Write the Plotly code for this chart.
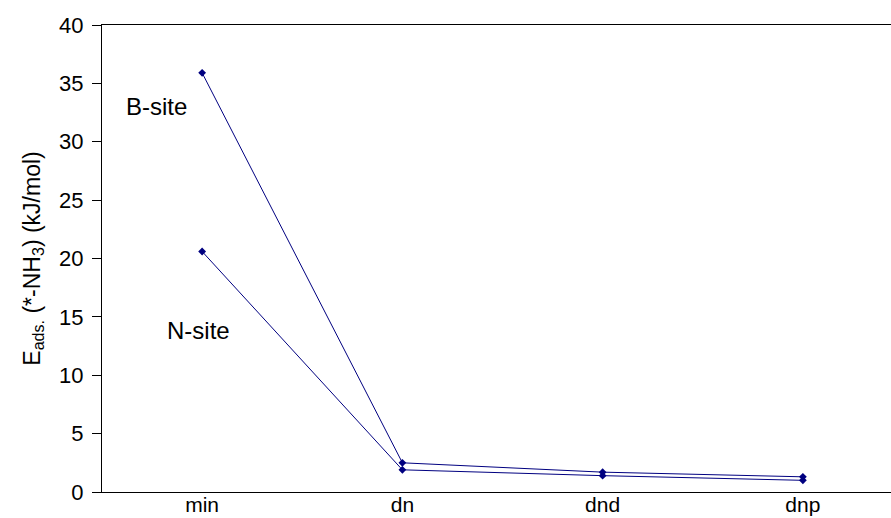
import plotly.graph_objects as go

categories = ["min", "dn", "dnd", "dnp"]
b_site = [35.9, 2.5, 1.7, 1.3]
n_site = [20.6, 1.9, 1.4, 1.0]
y_ticks = [0, 5, 10, 15, 20, 25, 30, 35, 40]

navy = "#000080"
font_family = "Liberation Sans, Arial, sans-serif"

fig = go.Figure()
for name, vals in [("B-site", b_site), ("N-site", n_site)]:
    fig.add_trace(go.Scatter(
        x=categories, y=vals, mode="lines+markers", name=name,
        line=dict(color=navy, width=1),
        marker=dict(symbol="diamond", size=6, color=navy),
        showlegend=False,
    ))

fig.add_annotation(x=-0.23, y=33.0, xref="x", yref="y", text="B-site",
                   showarrow=False, font=dict(size=24, color="black", family=font_family))
fig.add_annotation(x=-0.02, y=13.8, xref="x", yref="y", text="N-site",
                   showarrow=False, font=dict(size=24, color="black", family=font_family))

fig.update_layout(
    width=891, height=518,
    margin=dict(l=102, r=0, t=25, b=26),
    paper_bgcolor="white", plot_bgcolor="white",
    font=dict(family=font_family, color="black", size=22),
)
fig.update_xaxes(
    type="category", range=[-0.5, 3.44],
    showline=True, linecolor="black", linewidth=1, mirror=True,
    showgrid=False, zeroline=False, ticks="",
    tickfont=dict(size=21), automargin=False, ticklabelstandoff=-6,
)
fig.update_yaxes(
    range=[0, 40], tickvals=y_ticks,
    showline=True, linecolor="black", linewidth=1,
    showgrid=False, zeroline=False,
    ticks="outside", ticklen=9, tickcolor="black",
    ticklabelstandoff=4, automargin=False,
    tickfont=dict(size=22),
    title=dict(text="E<sub>ads.</sub> (*-NH<sub>3</sub>) (kJ/mol)", font=dict(size=23), standoff=12),
)

fig.write_html("out.html")
